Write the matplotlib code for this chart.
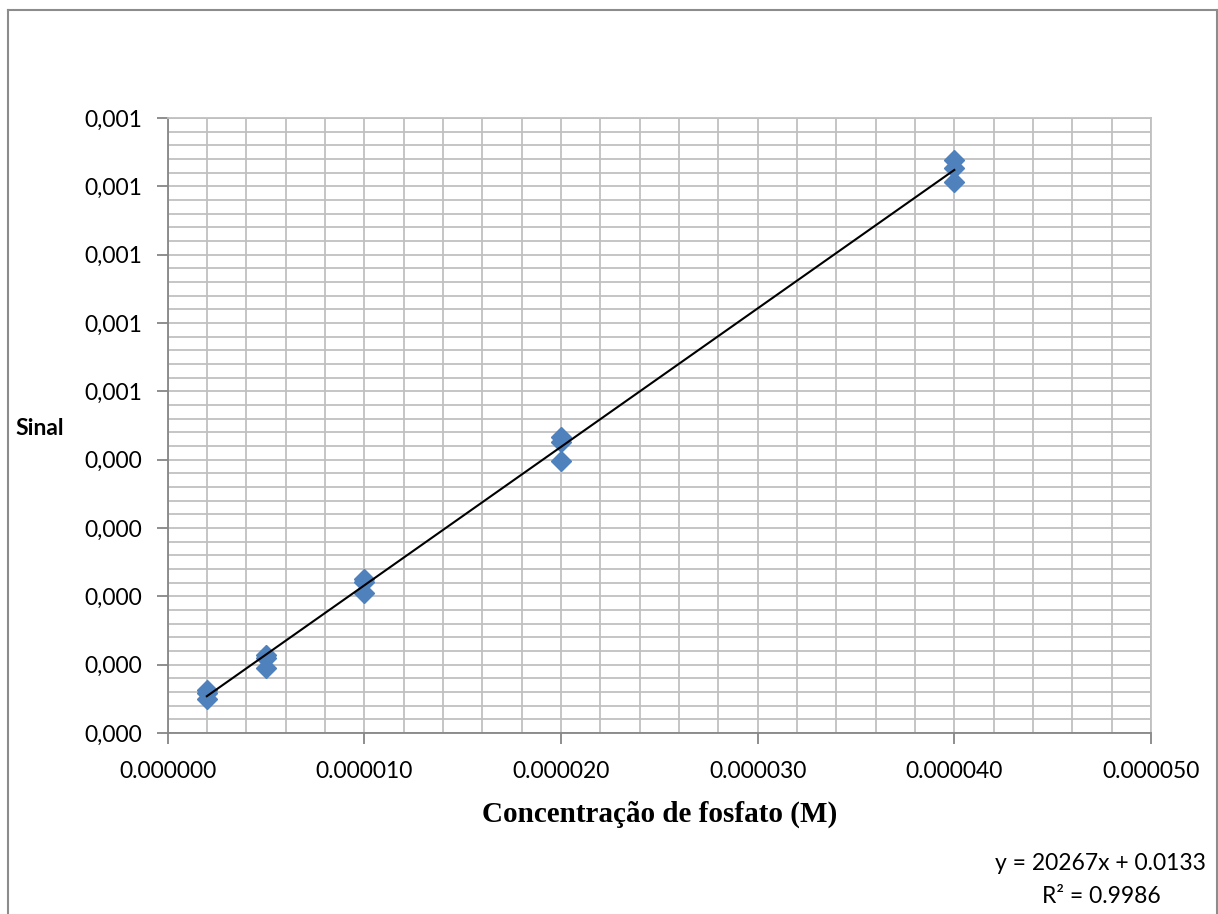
import numpy as np
import matplotlib
matplotlib.use("Agg")
import matplotlib.pyplot as plt
from matplotlib.ticker import MultipleLocator, FuncFormatter
from matplotlib.lines import Line2D

# Phosphate calibration data (concentration in M, signal)
conc = [0.000002, 0.000002, 0.000002,
        0.000005, 0.000005, 0.000005,
        0.000010, 0.000010, 0.000010,
        0.000020, 0.000020, 0.000020,
        0.000040, 0.000040, 0.000040]
signal = [0.0000630, 0.0000580, 0.0000500,
          0.0001140, 0.0001100, 0.0000950,
          0.0002250, 0.0002210, 0.0002050,
          0.0004330, 0.0004260, 0.0003980,
          0.0008390, 0.0008270, 0.0008060]

# Linear trendline coefficients (signal expressed in units of 1e-3)
slope = 20267
intercept = 0.0133
r_squared = 0.9986
signal_scale = 1e-3

W, H = 1218, 914
fig = plt.figure(figsize=(W / 100, H / 100), dpi=100)
fig.patch.set_facecolor("white")

# outer chart border
border_col = "#8c8c8c"
fig.add_artist(Line2D([8 / W, 8 / W], [0, 1 - 10 / H], transform=fig.transFigure, color=border_col, lw=1.5))
fig.add_artist(Line2D([8 / W, 1216.5 / W], [1 - 10 / H, 1 - 10 / H], transform=fig.transFigure, color=border_col, lw=1.5))
fig.add_artist(Line2D([1216.5 / W, 1216.5 / W], [0, 1 - 10 / H], transform=fig.transFigure, color=border_col, lw=1.5))

left, right = 167.5 / W, 1151 / W
bottom, top = 1 - 733 / H, 1 - 118 / H
ax = fig.add_axes([left, bottom, right - left, top - bottom])

ax.set_xlim(0, 0.00005)
ax.set_ylim(0, 0.0009)

ax.xaxis.set_major_locator(MultipleLocator(0.00001))
ax.xaxis.set_minor_locator(MultipleLocator(0.000002))
ax.yaxis.set_major_locator(MultipleLocator(0.0001))
ax.yaxis.set_minor_locator(MultipleLocator(0.00002))

grid_col = "#c0c0c0"
ax.grid(True, which="both", color=grid_col, lw=1.3)
ax.set_axisbelow(True)

for s in ["top", "right"]:
    ax.spines[s].set_color(grid_col)
    ax.spines[s].set_linewidth(1.3)
for s in ["left", "bottom"]:
    ax.spines[s].set_color("#868686")
    ax.spines[s].set_linewidth(1.3)

tick_font = "Lato"
fs = 16.5
ax.xaxis.set_major_formatter(FuncFormatter(lambda v, p: f"{v:.6f}"))
ax.yaxis.set_major_formatter(FuncFormatter(lambda v, p: f"{v:.3f}".replace(".", ",")))
ax.tick_params(axis="both", which="major", direction="out", length=8, width=1.3,
               color="#868686", labelsize=fs)
ax.tick_params(axis="both", which="minor", length=0)
ax.tick_params(axis="y", pad=10)
ax.tick_params(axis="x", pad=12)
for lab in ax.get_xticklabels() + ax.get_yticklabels():
    lab.set_fontfamily(tick_font)

# trendline over the measured range
xs = np.array([min(conc), max(conc)])
ys = (slope * xs + intercept) * signal_scale
ax.plot(xs, ys, color="black", lw=1.5, zorder=4)

ax.plot(conc, signal, linestyle="none", marker="D", markersize=10.5,
        color="#4f81bd", markeredgecolor="#4f81bd", zorder=3)

fig.text((167.5 + 1151) / 2 / W, 1 - 822 / H, "Concentração de fosfato (M)",
         fontfamily="Liberation Serif", fontweight="bold", fontsize=21,
         ha="center", va="baseline")
fig.text(15 / W, 1 - 435 / H, "Sinal", fontfamily="Lato", fontweight="bold",
         fontsize=fs, ha="left", va="baseline")

fig.text(1100 / W, 1 - 870 / H, f"y = {slope}x + {intercept}",
         fontfamily=tick_font, fontsize=fs, ha="center", va="baseline")
fig.text(1101 / W, 1 - 903 / H, f"R² = {r_squared}",
         fontfamily=tick_font, fontsize=fs, ha="center", va="baseline")

fig.savefig("out.png", dpi=100)
